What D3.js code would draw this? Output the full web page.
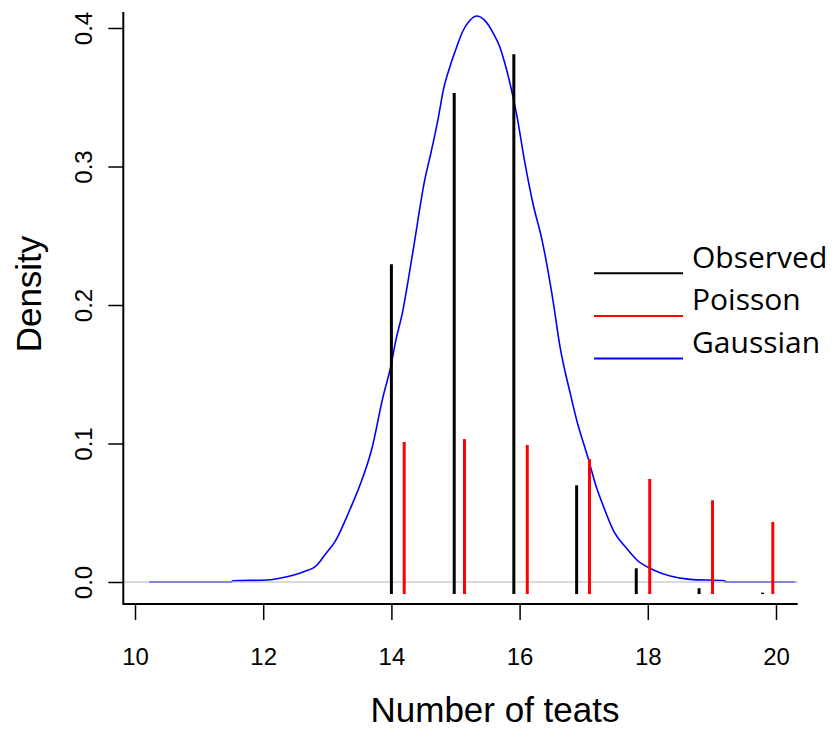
<!DOCTYPE html>
<html>
<head>
<meta charset="utf-8">
<script src="https://cdn.jsdelivr.net/npm/d3@7"></script>
<style>
  body { margin: 0; background: #fff; }
  svg { display: block; }
</style>
</head>
<body>
<svg id="chart" width="834" height="731"></svg>
<script>
// observed frequencies (black spikes)
var obsX = [14.00, 14.98, 15.91, 16.89, 17.82, 18.80, 19.79]
var obsY = [0.2294, 0.3531, 0.3810, 0.0698, 0.0099, -0.0045, -0.0077]

// poisson fit (red spikes)
var poisX = [14.20, 15.14, 16.12, 17.09, 18.03, 19.01, 19.95]
var poisY = [0.1011, 0.1032, 0.0989, 0.0888, 0.0744, 0.0590, 0.0433]

// gaussian curve
var gausX = [10.22, 11.50, 11.53, 12.06, 12.37, 12.63, 12.84, 12.96, 13.12, 13.35, 13.51, 13.69,
             13.87, 13.99, 14.07, 14.17, 14.28, 14.34, 14.52, 14.62, 14.73, 14.81, 14.93, 15.02,
             15.11, 15.23, 15.33, 15.46, 15.59, 15.69, 15.77, 15.85, 15.96, 16.08, 16.21, 16.35,
             16.52, 16.63, 16.79, 16.89, 17.07, 17.18, 17.31, 17.46, 17.67, 17.83, 18.09, 18.35,
             18.66, 19.20, 19.21, 20.30]
var gausY = [0, 0, 0.0009, 0.0014, 0.0038, 0.0074, 0.0123, 0.0195, 0.0291, 0.0520, 0.0700, 0.0953,
             0.1338, 0.1555, 0.1747, 0.1940, 0.2229, 0.2397, 0.2903, 0.3105, 0.3348, 0.3552, 0.3745, 0.3865,
             0.3973, 0.4058, 0.4087, 0.4053, 0.3962, 0.3865, 0.3745, 0.3601, 0.3360, 0.3033, 0.2729, 0.2469,
             0.2036, 0.1699, 0.1362, 0.1170, 0.0893, 0.0712, 0.0544, 0.0375, 0.0243, 0.0159, 0.0087, 0.0043,
             0.0019, 0.0009, 0, 0]

var xTicks = [10, 12, 14, 16, 18, 20]
var yTicks = [0.0, 0.1, 0.2, 0.3, 0.4]

var legendNames = ["Observed", "Poisson", "Gaussian"]
var legendColors = ["black", "red", "blue"]

var barBase = -0.0087

var svg = d3.select("#chart")

var xScale = d3.scaleLinear().domain([10, 20]).range([135, 776])
var yScale = d3.scaleLinear().domain([0, 0.4]).range([582, 28])

var xMin = xScale.invert(123.3), xMax = xScale.invert(797.7)
var yMin = yScale.invert(604), yMax = yScale.invert(12)

// gaussian curve
var curve = gausX.map((d, i) => [d, gausY[i]])
svg.append("path")
    .datum(curve)
    .attr("fill", "none")
    .attr("stroke", "#0000ff")
    .attr("stroke-width", 1.6)
    .attr("d", d3.line().curve(d3.curveMonotoneX).x(d => xScale(d[0])).y(d => yScale(d[1])))

// zero line
svg.append("line")
    .attr("x1", xScale(xMin)).attr("x2", xScale(xMax))
    .attr("y1", yScale(0)).attr("y2", yScale(0))
    .attr("stroke", "#bebebe")
    .attr("stroke-opacity", 0.75)
    .attr("stroke-width", 1.6)

// spikes
svg.selectAll(".obs")
    .data(obsX)
    .enter()
    .append("line")
    .attr("x1", d => xScale(d)).attr("x2", d => xScale(d))
    .attr("y1", yScale(barBase))
    .attr("y2", (d, i) => yScale(obsY[i]))
    .attr("stroke", "black")
    .attr("stroke-width", 3)

svg.selectAll(".pois")
    .data(poisX)
    .enter()
    .append("line")
    .attr("x1", d => xScale(d)).attr("x2", d => xScale(d))
    .attr("y1", yScale(barBase))
    .attr("y2", (d, i) => yScale(poisY[i]))
    .attr("stroke", "red")
    .attr("stroke-width", 3)

// axes
var xAxisgen = d3.axisBottom(xScale).tickValues(xTicks).tickSize(16).tickPadding(28)
    .tickFormat(d3.format("d"))
var yAxisgen = d3.axisLeft(yScale).tickValues(yTicks).tickSize(15)
    .tickFormat(d3.format(".1f"))

var xAxis = svg.append("g")
    .attr("transform", "translate(0,604)")
    .call(xAxisgen)
xAxis.select(".domain").remove()
xAxis.selectAll("line").attr("stroke-width", 1.5)
xAxis.selectAll("text")
    .attr("font-family", "Liberation Sans, Arial, sans-serif")
    .attr("font-size", 24)
    .attr("fill", "black")

var yAxis = svg.append("g")
    .attr("transform", "translate(123.3,0)")
    .call(yAxisgen)
yAxis.select(".domain").remove()
yAxis.selectAll("line").attr("stroke-width", 1.5)
yAxis.selectAll("text")
    .attr("font-family", "Liberation Sans, Arial, sans-serif")
    .attr("font-size", 24)
    .attr("fill", "black")
    .attr("text-anchor", "middle")
    .attr("x", 0).attr("y", 0).attr("dy", 0)
    .attr("transform", "translate(-31,0) rotate(-90)")

// L-shaped box
svg.append("path")
    .attr("d", `M${xScale(xMin)},${yScale(yMax)} V${yScale(yMin)} H${xScale(xMax)}`)
    .attr("fill", "none")
    .attr("stroke", "black")
    .attr("stroke-width", 2)

// axis titles
svg.append("text")
    .attr("x", 495).attr("y", 722)
    .attr("text-anchor", "middle")
    .attr("font-family", "Liberation Sans, Arial, sans-serif")
    .attr("font-size", 35)
    .text("Number of teats")

svg.append("text")
    .attr("transform", "translate(41,294) rotate(-90)")
    .attr("text-anchor", "middle")
    .attr("font-family", "Liberation Sans, Arial, sans-serif")
    .attr("font-size", 35)
    .text("Density")

// legend
var legend = svg.selectAll(".legend")
    .data(legendNames)
    .enter()
    .append("g")
    .attr("transform", (d, i) => `translate(594,${267.7 + i * 42.7})`)

legend.append("line")
    .attr("x1", 0).attr("x2", 89)
    .attr("y1", 5.5).attr("y2", 5.5)
    .attr("stroke", (d, i) => legendColors[i])
    .attr("stroke-width", 2)

legend.append("text")
    .attr("x", 98).attr("y", 0)
    .attr("font-family", "Open Sans, sans-serif")
    .attr("font-size", 30)
    .text(d => d)
</script>
</body>
</html>
